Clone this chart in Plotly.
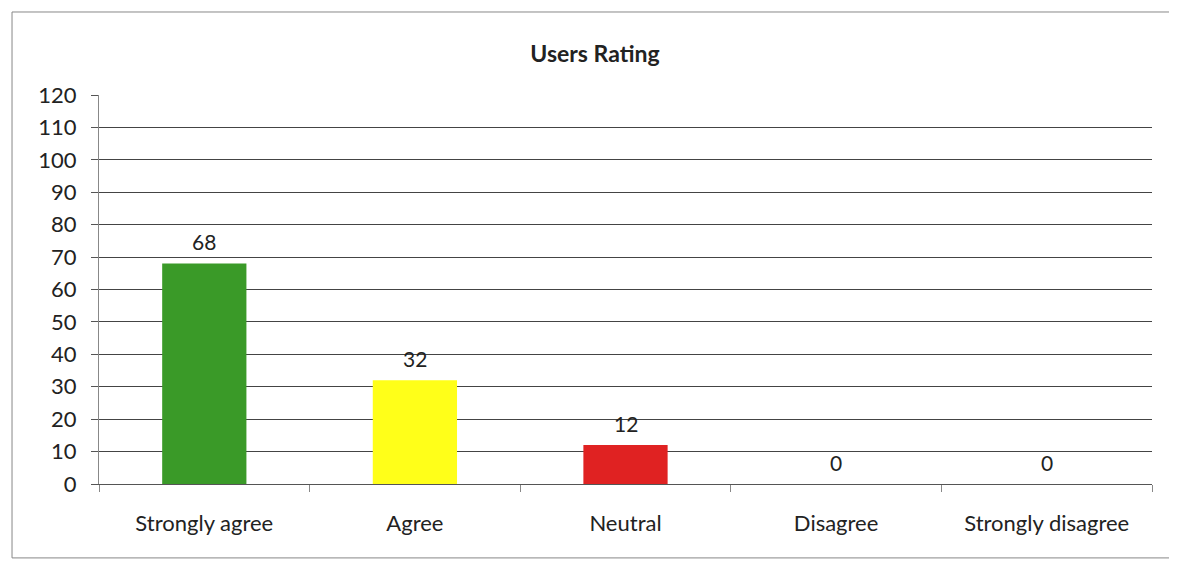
import plotly.graph_objects as go

categories = ["Strongly agree", "Agree", "Neutral", "Disagree", "Strongly disagree"]
ratings = [68, 32, 12, 0, 0]
bar_colors = ["#3a9a28", "#ffff19", "#e02222", "#888888", "#888888"]
y_ticks = list(range(0, 121, 10))

FONT = "Lato, Open Sans, sans-serif"

fig = go.Figure()

fig.add_trace(go.Bar(
    x=categories,
    y=ratings,
    marker=dict(color=bar_colors, line=dict(width=0)),
    width=0.4,
    hoverinfo="x+y",
))

# value labels above the bars
for cat, val in zip(categories, ratings):
    fig.add_annotation(
        x=cat, y=val, text=str(val),
        showarrow=False, yanchor="middle", yshift=22,
        font=dict(family=FONT, size=21, color="#222222"),
    )

# page body has an 8px margin, so the figure is 8px smaller than the window
fig.update_layout(
    width=1169,
    height=553,
    margin=dict(l=91, r=25, t=87, b=77),
    paper_bgcolor="white",
    plot_bgcolor="white",
    showlegend=False,
    title=dict(
        text="<b>Users Rating</b>",
        xref="paper", x=0.471, xanchor="center",
        y=0.917, yanchor="middle",
        font=dict(family=FONT, size=23, color="#222222"),
    ),
    font=dict(family=FONT, size=21, color="#222222"),
)

fig.update_yaxes(
    range=[0, 120],
    tickvals=y_ticks,
    showgrid=True,
    gridcolor="#444444",
    gridwidth=1.2,
    showline=True,
    linecolor="#888888",
    ticks="outside",
    ticklen=7,
    tickcolor="#555555",
    ticklabelstandoff=10,
    zeroline=False,
    tickfont=dict(size=22),
)

fig.update_xaxes(
    showline=True,
    linecolor="#555555",
    ticks="outside",
    tickson="boundaries",
    ticklen=7,
    tickcolor="#888888",
    ticklabelstandoff=20,
    showgrid=False,
    tickfont=dict(size=22),
)

# outer chart border
fig.add_shape(
    type="rect", xref="paper", yref="paper",
    x0=-0.0826, x1=1.0209, y0=-0.19, y1=1.2134,
    line=dict(color="#888888", width=1),
    fillcolor="rgba(0,0,0,0)",
)

fig.write_html("out.html")
